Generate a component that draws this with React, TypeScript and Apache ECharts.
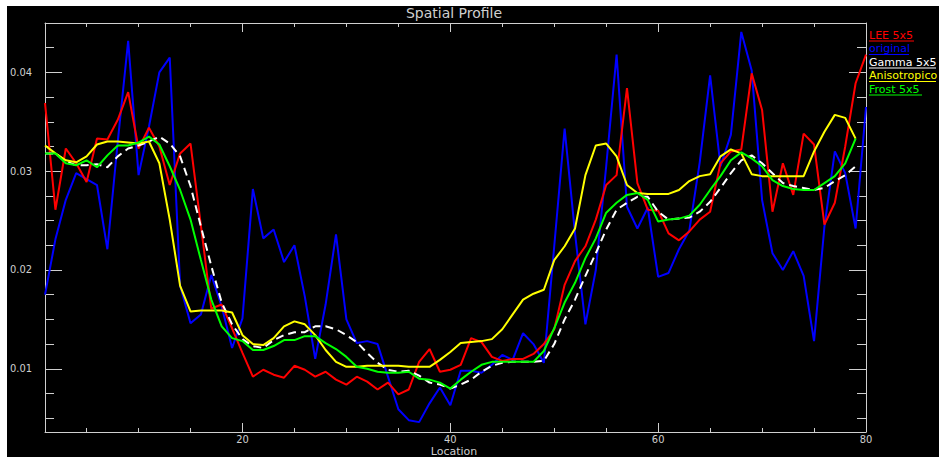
import React, { useEffect, useRef } from "react";
import * as echarts from "echarts";

const location = Array.from({ length: 80 }, (_, i) => i + 1);

const lee5x5 = [
  0.0369, 0.0261, 0.0323, 0.0308, 0.0289, 0.0333, 0.0332, 0.0352, 0.038, 0.0323,
  0.0344, 0.0325, 0.0286, 0.0318, 0.0328, 0.0245, 0.0161, 0.0165, 0.0141, 0.0116,
  0.0092, 0.0099, 0.0094, 0.0091, 0.0103, 0.0099, 0.0092, 0.0097, 0.0089, 0.0084,
  0.0092, 0.0087, 0.0079, 0.0086, 0.0074, 0.0079, 0.0107, 0.012, 0.0097, 0.0099,
  0.0104, 0.0131, 0.0127, 0.0112, 0.0108, 0.011, 0.011, 0.0115, 0.0125, 0.014,
  0.0185, 0.0209, 0.0224, 0.0251, 0.0286, 0.0296, 0.0384, 0.0288, 0.0261, 0.026,
  0.0237, 0.023, 0.0239, 0.0251, 0.0259, 0.0308, 0.032, 0.0322, 0.0399, 0.0362,
  0.0259, 0.0308, 0.0276, 0.0338, 0.0327, 0.0246, 0.0268, 0.0325, 0.0389, 0.0418,
];

const original = [
  0.0175, 0.0231, 0.0271, 0.0298, 0.0292, 0.0286, 0.0221, 0.033, 0.0432, 0.0296,
  0.0345, 0.04, 0.0415, 0.0184, 0.0146, 0.0155, 0.0195, 0.0163, 0.0121, 0.0151,
  0.0282, 0.0232, 0.0241, 0.0208, 0.0225, 0.0173, 0.011, 0.0165, 0.0236, 0.015,
  0.0126, 0.0128, 0.0125, 0.0092, 0.0059, 0.0048, 0.0046, 0.0065, 0.0081, 0.0063,
  0.0098, 0.0098, 0.0096, 0.0104, 0.0114, 0.0109, 0.0136, 0.0125, 0.0106, 0.0224,
  0.0343, 0.0237, 0.0145, 0.02, 0.0305, 0.0418, 0.0264, 0.0242, 0.0263, 0.0193,
  0.0197, 0.0221, 0.024, 0.0309, 0.0397, 0.0305, 0.0337, 0.0441, 0.0402, 0.0271,
  0.0217, 0.02, 0.0219, 0.0194, 0.0128, 0.0244, 0.032, 0.0298, 0.0242, 0.0365,
];

const gamma5x5 = [
  0.0318, 0.0318, 0.031, 0.0306, 0.0306, 0.0307, 0.0304, 0.0315, 0.0323, 0.0326,
  0.033, 0.0335, 0.0328, 0.0315, 0.0285, 0.0244, 0.0204, 0.0167, 0.0145, 0.013,
  0.0123, 0.0121, 0.0129, 0.0134, 0.0137, 0.0137, 0.0143, 0.0143, 0.014, 0.0134,
  0.0127, 0.0116, 0.0106, 0.0099, 0.0097, 0.0098, 0.0093, 0.0086, 0.0084, 0.008,
  0.0084, 0.0089, 0.0097, 0.0103, 0.0106, 0.0107, 0.0107, 0.0107, 0.0108, 0.0125,
  0.015, 0.017, 0.0194, 0.0217, 0.0241, 0.0261, 0.0268, 0.0274, 0.0274, 0.0259,
  0.0251, 0.0252, 0.0253, 0.0259, 0.0269, 0.0283, 0.0298, 0.0311, 0.0316, 0.0308,
  0.0298, 0.0288, 0.0285, 0.0283, 0.0281, 0.0283, 0.029, 0.0296, 0.0305,
];

const anisotropico = [
  0.0326, 0.0318, 0.0311, 0.0309, 0.0315, 0.0327, 0.033, 0.033, 0.0329, 0.0328,
  0.033, 0.0308, 0.0251, 0.0184, 0.0158, 0.0159, 0.0159, 0.0159, 0.0157, 0.0134,
  0.0125, 0.0124, 0.0131, 0.0143, 0.0148, 0.0145, 0.0134, 0.0119, 0.0107, 0.0102,
  0.0102, 0.0103, 0.0103, 0.0103, 0.0103, 0.0102, 0.0102, 0.0102, 0.0109, 0.0117,
  0.0126, 0.0127, 0.0128, 0.013, 0.014, 0.0155, 0.017, 0.0176, 0.018, 0.021,
  0.0224, 0.0242, 0.0296, 0.0326, 0.0328, 0.0315, 0.0286, 0.0278, 0.0277, 0.0277,
  0.0277, 0.0281, 0.029, 0.0295, 0.0297, 0.0315, 0.0322, 0.0318, 0.0297, 0.0295,
  0.0295, 0.0295, 0.0295, 0.0295, 0.032, 0.034, 0.0357, 0.0354, 0.0333,
];

const frost5x5 = [
  0.0318, 0.0318, 0.0308, 0.0306, 0.0311, 0.0304, 0.0316, 0.0326, 0.0326, 0.0329,
  0.0335, 0.0327, 0.0305, 0.0281, 0.0251, 0.021, 0.017, 0.0143, 0.0131, 0.0128,
  0.0119, 0.0119, 0.0123, 0.0129, 0.0129, 0.0133, 0.0133, 0.0126, 0.012, 0.0112,
  0.0102, 0.01, 0.0097, 0.0096, 0.0096, 0.0097, 0.009, 0.0089, 0.0086, 0.008,
  0.0089, 0.0097, 0.0104, 0.0107, 0.0107, 0.0107, 0.0107, 0.0107, 0.0118, 0.0141,
  0.0167, 0.0187, 0.0212, 0.0232, 0.0258, 0.0268, 0.0276, 0.0278, 0.0271, 0.0249,
  0.0251, 0.0252, 0.0255, 0.0266, 0.0281, 0.0295, 0.0311, 0.0319, 0.0313, 0.0305,
  0.0291, 0.0285, 0.0282, 0.0281, 0.0281, 0.0288, 0.0295, 0.0308, 0.0333,
];

const xMajorTicks = [20, 40, 60, 80];
const xMinorTicks = [5, 10, 15, 25, 30, 35, 45, 50, 55, 65, 70, 75];
const yMajorTicks = [0.01, 0.02, 0.03, 0.04];
const yMinorTicks = [0.005, 0.0075, 0.0125, 0.015, 0.0175, 0.0225, 0.025, 0.0275, 0.0325, 0.035, 0.0375, 0.0425];

const legendNames = ["LEE 5x5", "original", "Gamma 5x5", "Anisotropico", "Frost 5x5"];
const legendColors = ["#ff0000", "#0000ff", "#ffffff", "#ffff00", "#00ff00"];
const legendUnderline = [45, 40, 67, 67, 53];

const AXIS = "#cfcfcf";
const FONT = "'DejaVu Sans', sans-serif";
const NARROW = "'Liberation Sans Narrow', 'DejaVu Sans Condensed', 'Liberation Sans', sans-serif";

export default function App() {
  const ref = useRef<HTMLDivElement>(null);
  useEffect(() => {
    if (!ref.current) return;
    const chart = echarts.init(ref.current, null, { renderer: "svg" });
    const OX = 7;
    const OY = 6;
    const toPairs = (arr: number[]) => arr.map((v, i) => [location[i], v]);

    const xBase = (position: string, ticks: number[], len: number, showLine: boolean, showLabel: boolean) => ({
      type: "value",
      min: 1,
      max: 80,
      position,
      axisLine: { show: showLine, onZero: false, lineStyle: { color: AXIS, width: 1 } },
      axisTick: { show: true, inside: true, length: len, customValues: ticks, lineStyle: { color: AXIS, width: 1 } },
      axisLabel: showLabel
        ? { show: true, customValues: ticks, color: AXIS, fontSize: 11, fontFamily: NARROW, margin: 2 }
        : { show: false },
      splitLine: { show: false },
    });
    const yBase = (position: string, ticks: number[], len: number, showLine: boolean, showLabel: boolean) => ({
      type: "value",
      min: 0.0036,
      max: 0.045,
      position,
      axisLine: { show: showLine, onZero: false, lineStyle: { color: AXIS, width: 1 } },
      axisTick: { show: true, inside: true, length: len, customValues: ticks, lineStyle: { color: AXIS, width: 1 } },
      axisLabel: showLabel
        ? {
            show: true,
            customValues: ticks,
            color: AXIS,
            fontSize: 11,
            fontFamily: NARROW,
            margin: 13,
            formatter: (v: number) => v.toFixed(2),
          }
        : { show: false },
      splitLine: { show: false },
    });

    const graphics: any[] = [
      {
        type: "text",
        x: 454 - OX,
        y: 13 - OY,
        style: { text: "Spatial Profile", fill: AXIS, font: `14px ${FONT}`, align: "center", verticalAlign: "middle" },
      },
      {
        type: "text",
        x: 454 - OX,
        y: 451 - OY,
        style: { text: "Location", fill: AXIS, font: `11px ${FONT}`, align: "center", verticalAlign: "middle" },
      },
    ];
    legendNames.forEach((name, i) => {
      const cy = 35 + i * 13.5;
      graphics.push({
        type: "text",
        x: 869 - OX,
        y: cy - OY,
        style: { text: name, fill: legendColors[i], font: `11px ${FONT}`, align: "left", verticalAlign: "middle" },
      });
      graphics.push({
        type: "line",
        shape: { x1: 869 - OX, y1: cy + 6 - OY, x2: 869 + legendUnderline[i] - OX, y2: cy + 6 - OY },
        style: { stroke: legendColors[i], lineWidth: 1 },
      });
    });

    const line = (name: string, data: number[], color: string, dashed = false) => ({
      name,
      type: "line",
      xAxisIndex: 0,
      yAxisIndex: 0,
      data: toPairs(data),
      showSymbol: false,
      symbol: "none",
      lineStyle: { color, width: 2, type: dashed ? [8, 5] : "solid" },
      z: 3,
    });

    chart.setOption({
      animation: false,
      backgroundColor: "#000000",
      grid: { left: 43 - OX, top: 23 - OY, right: 939 - 866, bottom: 457 - 432, containLabel: false },
      xAxis: [
        xBase("bottom", xMajorTicks, 9, true, true),
        xBase("bottom", xMinorTicks, 4, false, false),
        xBase("top", xMajorTicks, 9, true, false),
        xBase("top", xMinorTicks, 4, false, false),
      ],
      yAxis: [
        yBase("left", yMajorTicks, 17, true, true),
        yBase("left", yMinorTicks, 9, false, false),
        yBase("right", yMajorTicks, 17, true, false),
        yBase("right", yMinorTicks, 9, false, false),
      ],
      series: [
        line("original", original, "#0000ff"),
        line("LEE 5x5", lee5x5, "#ff0000"),
        line("Gamma 5x5", gamma5x5, "#ffffff", true),
        line("Anisotropico", anisotropico, "#ffff00"),
        line("Frost 5x5", frost5x5, "#00ff00"),
      ],
      graphic: graphics,
    });
    return () => chart.dispose();
  }, []);
  return (
    <div
      ref={ref}
      style={{ position: "absolute", left: 7, top: 6, width: 932, height: 451, background: "#000" }}
    />
  );
}
